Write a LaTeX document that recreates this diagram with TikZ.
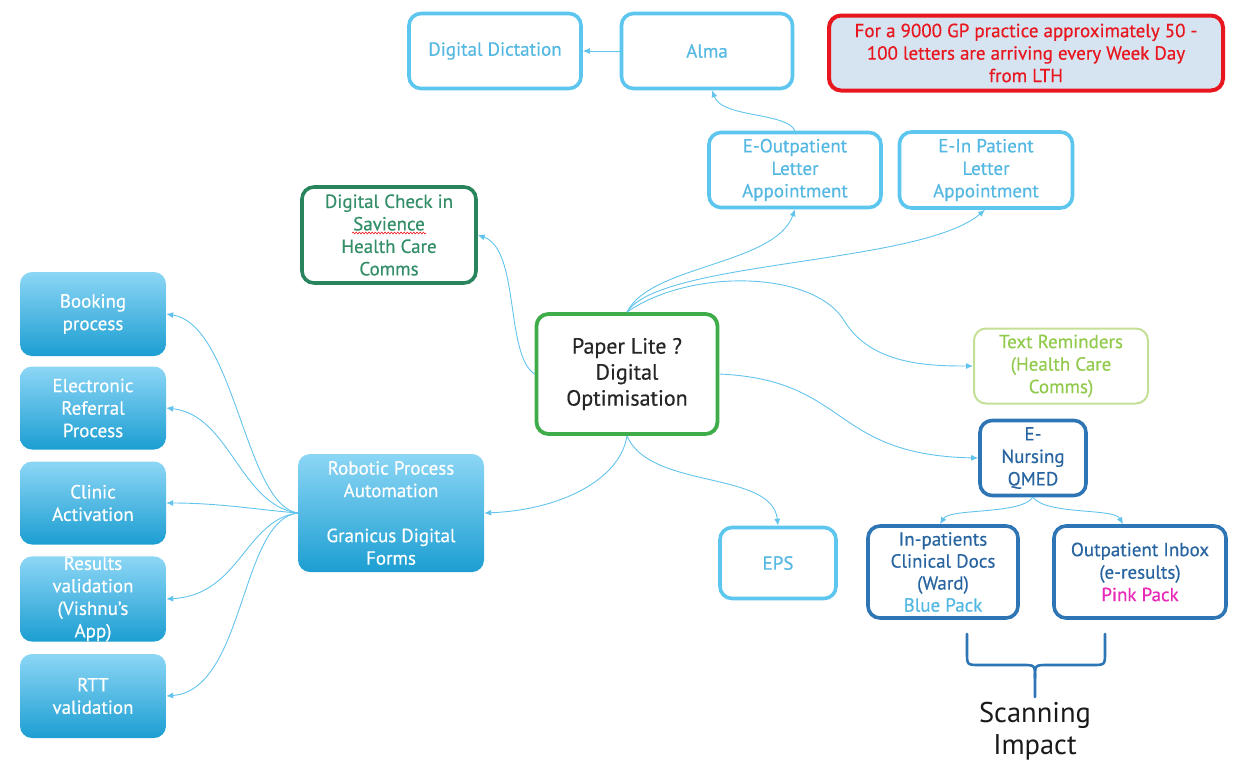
\documentclass[tikz,border=0pt]{standalone}
\usepackage{fontspec}
\setmainfont{PT Sans}
\newfontfamily\boxfont{PT Sans}[FakeBold=0.45]
\usetikzlibrary{arrows.meta,decorations.pathmorphing}

\definecolor{skyline}{RGB}{98,196,236}
\definecolor{skyborder}{RGB}{92,198,238}
\definecolor{skytext}{RGB}{84,184,226}
\definecolor{navyborder}{RGB}{46,117,182}
\definecolor{navytext}{RGB}{40,100,160}
\definecolor{hubgreen}{RGB}{62,172,72}
\definecolor{pinegreen}{RGB}{40,132,92}
\definecolor{pinetext}{RGB}{52,142,104}
\definecolor{limeborder}{RGB}{196,224,150}
\definecolor{limetext}{RGB}{146,202,78}
\definecolor{alertred}{RGB}{232,22,30}
\definecolor{alertfill}{RGB}{214,228,242}
\definecolor{packpink}{RGB}{232,42,184}
\definecolor{tiletop}{RGB}{140,214,245}
\definecolor{tilebottom}{RGB}{28,158,210}

\begin{document}
\begin{tikzpicture}[x=1pt,y=-1pt,
  label font/.style={font=\boxfont\fontsize{19}{22.5}\selectfont},
  basebox/.style={rounded corners=12pt, align=center, inner sep=0pt, label font},
  skybox/.style={basebox, draw=skyborder, line width=3.6pt, text=skytext},
  navybox/.style={basebox, draw=navyborder, line width=3.6pt, text=navytext},
  tile/.style={basebox, top color=tiletop, bottom color=tilebottom, draw=none, text=white,
               minimum width=146pt},
  conn/.style={draw=skyline, line width=0.9pt, -{Latex[length=7pt,width=6pt]}},
  bracket/.style={draw=navyborder, line width=2.6pt, line cap=round, line join=round}
]
\useasboundingbox (0,0) rectangle (1243,763);

% top row
\node[skybox, minimum width=172pt, minimum height=75pt] (dict) at (495,51) {Digital Dictation};
\node[skybox, minimum width=171pt, minimum height=75pt] (alma) at (707,51) {Alma};
\node[basebox, draw=alertred, fill=alertfill, line width=4pt, text=alertred,
      minimum width=394pt, minimum height=75pt] (note) at (1026,53)
  {For a 9000 GP practice approximately 50 -\\100 letters are arriving every Week Day\\from LTH};

% letters
\node[skybox, minimum width=172pt, minimum height=75pt] (eout) at (795,170) {E-Outpatient\\Letter\\Appointment};
\node[skybox, minimum width=173pt, minimum height=76pt] (ein) at (986,170) {E-In Patient\\Letter\\Appointment};

% check in
\node[basebox, draw=pinegreen, line width=3.6pt, text=pinetext,
      minimum width=174pt, minimum height=96pt] (check) at (389,235)
  {Digital Check in\\Savience\\Health Care\\Comms};
\draw[alertred, line width=0.6pt, decorate,
      decoration={snake, amplitude=0.9pt, segment length=3.2pt}] (352,233) -- (426,233);

% hub
\node[basebox, draw=hubgreen, line width=3.8pt, text=black!85,
      font=\boxfont\fontsize{22}{26}\selectfont,
      minimum width=181pt, minimum height=120pt] (hub) at (627,374)
  {Paper Lite ?\\Digital\\Optimisation};

% right side
\node[basebox, draw=limeborder, line width=2pt, text=limetext,
      minimum width=174pt, minimum height=75pt] (remind) at (1061,366)
  {Text Reminders\\(Health Care\\Comms)};
\node[navybox, minimum width=106pt, minimum height=75pt] (nurse) at (1033,458) {E-\\Nursing\\QMED};
\node[skybox, minimum width=116pt, minimum height=71pt] (eps) at (778,563) {EPS};
\node[navybox, minimum width=150pt, minimum height=92pt, font=\boxfont\fontsize{19}{22}\selectfont] (inpat) at (943,572)
  {In-patients\\Clinical Docs\\(Ward)\\\textcolor{skytext}{Blue Pack}};
\node[navybox, minimum width=172pt, minimum height=92pt] (outpat) at (1140,572)
  {Outpatient Inbox\\(e-results)\\\textcolor{packpink}{Pink Pack}};

% automation
\node[tile, minimum width=186pt, minimum height=118pt] (rpa) at (391,513)
  {Robotic Process\\Automation\\[22.5pt]Granicus Digital\\Forms};
\node[tile, minimum height=84pt] (book) at (93,314) {Booking\\process};
\node[tile, minimum height=83pt] (refer) at (93,408) {Electronic\\Referral\\Process};
\node[tile, minimum height=83pt] (clinic) at (93,503) {Clinic\\Activation};
\node[tile, minimum height=84pt] (result) at (93,599) {Results\\validation\\(Vishnu’s\\App)};
\node[tile, minimum height=84pt] (rtt) at (93,696) {RTT\\validation};

% summary label
\node[font=\fontsize{28.5}{32}\selectfont, align=center, text=black!90, inner sep=0pt] (scan) at (1035,731)
  {Scanning\\Impact};

% connectors
\draw[conn] (alma.west) -- (dict.east);
\draw[conn] (eout.north) .. controls (786,112) and (722,118) .. ([xshift=5pt]alma.south);
\draw[conn] (hub.north) .. controls (650,265) and (775,265) .. (eout.south);
\draw[conn] (hub.north) .. controls (660,260) and (920,265) .. ([xshift=-1pt]ein.south);
\draw[conn] (hub.north) .. controls (690,268) and (815,270) .. (845,322)
            .. controls (872,365) and (930,366) .. (remind.west);
\draw[conn] (hub.west) .. controls (505,355) and (520,250) .. (check.east);
\draw[conn] (hub.east) .. controls (850,380) and (830,455) .. (nurse.west);
\draw[conn] (hub.south) .. controls (620,480) and (560,510) .. (rpa.east);
\draw[conn] (hub.south) .. controls (650,490) and (772,470) .. (eps.north);
\draw[conn] (nurse.south) .. controls (1020,515) and (950,508) .. ([xshift=-3pt]inpat.north);
\draw[conn] (nurse.south) .. controls (1046,515) and (1114,508) .. ([xshift=-17pt]outpat.north);

\draw[conn] (rpa.west) .. controls (245,505) and (235,325) .. (book.east);
\draw[conn] (rpa.west) .. controls (240,505) and (230,415) .. (refer.east);
\draw[conn] (rpa.west) .. controls (260,510) and (220,503) .. (clinic.east);
\draw[conn] (rpa.west) .. controls (245,520) and (240,595) .. (result.east);
\draw[conn] (rpa.west) .. controls (240,520) and (245,690) .. (rtt.east);

% bracket over the two document boxes
\draw[bracket] (967,634) -- (967,652) .. controls (967,665) .. (980,665) -- (1022,665)
               .. controls (1035,665) .. (1035,678) -- (1035,697);
\draw[bracket] (1105,634) -- (1105,652) .. controls (1105,665) .. (1092,665) -- (1048,665)
               .. controls (1035,665) .. (1035,678);
\end{tikzpicture}
\end{document}
